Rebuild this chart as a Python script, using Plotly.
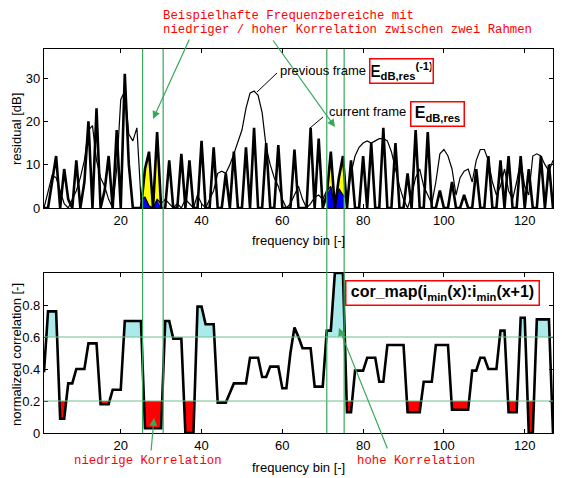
import numpy as np
import plotly.graph_objects as go

# frequency bins 1..127
bins = list(range(1, 128))

# residual of the current frame [dB] (thick line)
cur_frame = [0, 0, 6, 12, 0, 9, 2, 0, 11, 0,
             6, 20, 0, 23, 0, 4, 12, 0, 18, 0,
             31, 10, 0, 0, 0, 9, 13, 0, 17.5, 0,
             0, 11, 0, 0, 12.5, 0, 11, 0, 0, 15.5,
             0, 0, 14, 0, 0, 8, 0, 13, 0, 0,
             14, 0, 18.5, 0, 0, 15, 0, 0, 14.5, 0,
             0, 0, 13.5, 0, 0, 0, 18.5, 0, 16, 0,
             3, 13, 0, 7, 12, 0, 11, 0, 0, 12,
             0, 15, 0, 0, 18.5, 0, 0, 15, 0, 0,
             8, 0, 18, 0, 0, 17.5, 0, 0, 4, 0,
             0, 6, 0, 0, 3, 0, 0, 9, 0, 0,
             12, 0, 0, 11, 0, 12, 0, 0, 12, 0,
             9, 0, 0, 12, 0, 10, 0]

# residual of the previous frame [dB] (thin line)
prev_frame = [0, 4, 7.5, 7, 4, 1, 0, 2, 4, 7,
              11, 18, 19, 11, 7, 5, 2, 0, 9, 25,
              27, 17, 15.5, 18.5, 2, 2.5, 0.5, 0, 2, 1,
              2, 1, 0, 1, 0, 2, 1, 0, 3, 1,
              0, 2, 4, 8, 8.5, 8, 10, 12.5, 15, 18,
              23, 26.5, 27, 26, 22, 14, 10, 7, 5, 2,
              0, 1, 3, 5, 2, 0, 1, 2.5, 3, 2,
              4, 5, 0, 4.5, 3, 2, 8, 12, 14, 15,
              15.5, 15, 15.5, 16, 16, 15.5, 13, 9, 5, 2,
              0, 3, 7, 9, 5, 3, 1, 6, 12.5, 13.5,
              12, 9, 3, 7, 8.5, 9, 6, 11, 13.5, 13.5,
              11, 6, 3, 5, 9, 4, 2, 6, 11, 5,
              3, 12, 12.5, 12, 10, 8.5, 11]

# normalized correlation between the two frames
correlation = [0.38, 0.76, 0.76, 0.76, 0.09, 0.09, 0.31, 0.31, 0.40, 0.40,
               0.40, 0.56, 0.56, 0.56, 0.18, 0.18, 0.18, 0.27, 0.27, 0.27,
               0.70, 0.70, 0.70, 0.70, 0.70, 0.03, 0.03, 0.03, 0.03, 0.03,
               0.70, 0.70, 0.59, 0.59, 0.59, 0.0, 0.0, 0.0, 0.79, 0.79,
               0.68, 0.68, 0.68, 0.19, 0.19, 0.19, 0.25, 0.31, 0.31, 0.31,
               0.31, 0.47, 0.47, 0.47, 0.35, 0.35, 0.415, 0.415, 0.415, 0.28,
               0.28, 0.50, 0.66, 0.60, 0.53, 0.53, 0.53, 0.29, 0.29, 0.29,
               0.64, 0.64, 1.0, 1.0, 1.0, 0.13, 0.13, 0.39, 0.39, 0.39,
               0.47, 0.47, 0.47, 0.32, 0.32, 0.55, 0.55, 0.55, 0.55, 0.55,
               0.13, 0.13, 0.13, 0.13, 0.32, 0.32, 0.32, 0.55, 0.55, 0.55,
               0.55, 0.145, 0.145, 0.145, 0.145, 0.145, 0.39, 0.39, 0.47, 0.47,
               0.40, 0.40, 0.40, 0.64, 0.64, 0.13, 0.13, 0.13, 0.72, 0.72,
               0.0, 0.0, 0.71, 0.71, 0.71, 0.71, 0.0]

# example ranges (low / high correlation), bounds in bins
regions = [(25.4, 30.5), (71.0, 75.3)]
high_thr = 0.6
low_thr = 0.2

x_ticks = [20, 40, 60, 80, 100, 120]
y1_ticks = [0, 10, 20, 30]
y2_ticks = [0, 0.2, 0.4, 0.6, 0.8]
y2_ticktext = ['0', '0.2', '0.4', '0.6', '0.8']

# the page puts the figure 8px in from the corner, so the figure is
# made that much smaller and all positions below are page pixels
OFF = 8
W, H = 562 - OFF, 478 - OFF
L, R, T, B = 44 - OFF, 9, 49 - OFF, 45
font = 'Arial, Liberation Sans, sans-serif'
mono = 'Courier New, Liberation Mono, monospace'
green = '#37a85a'


def p(xpx, ypx):
    # page pixel -> paper coords
    xpx -= OFF
    ypx -= OFF
    return (xpx - L) / (W - L - R), (H - B - ypx) / (H - T - B)


def with_crossings(xs, ys, level):
    # add the points where the line crosses a threshold
    ox, oy = [xs[0]], [ys[0]]
    for i in range(1, len(xs)):
        x0, y0, x1, y1 = xs[i - 1], ys[i - 1], xs[i], ys[i]
        if (y0 - level) * (y1 - level) < 0:
            t = (level - y0) / (y1 - y0)
            ox.append(x0 + t * (x1 - x0))
            oy.append(level)
        ox.append(x1)
        oy.append(y1)
    return ox, oy


fig = go.Figure()

# yellow / blue areas in the marked ranges
for lo, hi in regions:
    xs = [lo] + [b for b in bins if lo < b < hi] + [hi]
    yc = np.interp(xs, bins, cur_frame)
    yp = np.minimum(np.interp(xs, bins, prev_frame), yc)
    fig.add_trace(go.Scatter(x=xs, y=yc, fill='tozeroy', fillcolor='#ffff00',
                             mode='lines', line=dict(width=0), xaxis='x', yaxis='y'))
    fig.add_trace(go.Scatter(x=xs, y=yp, fill='tozeroy', fillcolor='#0000ff',
                             mode='lines', line=dict(width=0), xaxis='x', yaxis='y'))

fig.add_trace(go.Scatter(x=bins, y=prev_frame, mode='lines',
                         line=dict(color='black', width=1.2), xaxis='x', yaxis='y'))
fig.add_trace(go.Scatter(x=bins, y=cur_frame, mode='lines',
                         line=dict(color='black', width=2.6), xaxis='x', yaxis='y'))

# cyan above 0.6, red below 0.2
cx, cy = with_crossings(bins, correlation, high_thr)
fig.add_trace(go.Scatter(x=cx, y=[high_thr] * len(cx), mode='lines',
                         line=dict(width=0), xaxis='x2', yaxis='y2'))
fig.add_trace(go.Scatter(x=cx, y=[max(v, high_thr) for v in cy], mode='lines',
                         fill='tonexty', fillcolor='#aaeaea',
                         line=dict(width=0), xaxis='x2', yaxis='y2'))
rx, ry = with_crossings(bins, correlation, low_thr)
fig.add_trace(go.Scatter(x=rx, y=[low_thr] * len(rx), mode='lines',
                         line=dict(width=0), xaxis='x2', yaxis='y2'))
fig.add_trace(go.Scatter(x=rx, y=[min(v, low_thr) for v in ry], mode='lines',
                         fill='tonexty', fillcolor='#ff0000',
                         line=dict(width=0), xaxis='x2', yaxis='y2'))

fig.add_trace(go.Scatter(x=bins, y=correlation, mode='lines',
                         line=dict(color='black', width=2.6), xaxis='x2', yaxis='y2'))

# green marker lines
shapes = []
for lo, hi in regions:
    for xv in (lo, hi):
        shapes.append(dict(type='line', xref='x', yref='paper', x0=xv, x1=xv,
                           y0=0, y1=1, line=dict(color=green, width=1.2)))
for lev in (low_thr, high_thr):
    shapes.append(dict(type='line', xref='paper', yref='y2', x0=0, x1=1,
                       y0=lev, y1=lev, line=dict(color='#72c08e', width=1.2)))

# leader lines for the frame labels
for (xa, ya), (xb, yb) in [((277, 73), (257, 92)), ((323, 117), (310, 128))]:
    x0, y0 = p(xa, ya)
    x1, y1 = p(xb, yb)
    shapes.append(dict(type='line', xref='paper', yref='paper', x0=x0, y0=y0,
                       x1=x1, y1=y1, line=dict(color='black', width=1)))

ann = []


def text(xpx, ypx, s, size=13, color='black', family=font, anchor='center', **kw):
    x, y = p(xpx, ypx)
    ann.append(dict(x=x, y=y, xref='paper', yref='paper', text=s, showarrow=False,
                    xanchor=anchor, yanchor='middle',
                    font=dict(size=size, color=color, family=family), **kw))


def arrow(tip, tail):
    x, y = p(*tip)
    ann.append(dict(x=x, y=y, xref='paper', yref='paper', text='', showarrow=True,
                    ax=tail[0] - tip[0], ay=tail[1] - tip[1],
                    arrowhead=2, arrowsize=1.3, arrowwidth=1.2, arrowcolor=green))


# top note sits a few px lower than in the scan so it stays inside the page
text(161, 16, 'Beispielhafte Frequenzbereiche mit', size=12.3, color='red',
     family=mono, anchor='left')
text(161, 30, 'niedriger / hoher Korrelation zwischen zwei Rahmen', size=12.3,
     color='red', family=mono, anchor='left')
text(148, 461, 'niedrige Korrelation', size=12.3, color='red', family=mono)
text(416, 461, 'hohe Korrelation', size=12.3, color='red', family=mono)

arrow((153, 119), (190, 38))
arrow((335, 127), (272, 39))
arrow((154, 418), (151, 452))
arrow((339, 328), (388, 450))

text(278, 71, 'previous frame', anchor='left')
text(401, 70.5, '<b>E<sub>dB,res</sub><sup>(-1)</sup></b>', size=16,
     bordercolor='red', borderwidth=1.5, borderpad=1, width=60, height=21)
text(327, 111, 'current frame', anchor='left')
text(437, 113.5, '<b>E<sub>dB,res</sub></b>', size=16,
     bordercolor='red', borderwidth=1.5, borderpad=1, width=50, height=21)
text(442, 292.5, '<b>cor_map(i<sub>min</sub>(x):i<sub>min</sub>(x+1)</b>', size=16,
     bordercolor='red', borderwidth=1.5, borderpad=1, width=190, height=21)

# axis titles
text(298, 240, 'frequency bin [-]')
text(298, 467, 'frequency bin [-]')
text(16, 129, 'residual [dB]', textangle=-90)
text(16, 355, 'normalized correlation [-]', textangle=-90)

axis_style = dict(showline=True, linecolor='black', linewidth=1.2, mirror='ticks',
                  ticks='inside', ticklen=4, tickcolor='black', showgrid=False,
                  zeroline=False, tickfont=dict(family=font, size=13, color='black'))

y1_lo = p(0, 208)[1]
y2_hi = p(0, 273)[1]

fig.update_layout(
    width=W, height=H,
    margin=dict(l=L, r=R, t=T, b=B),
    paper_bgcolor='white', plot_bgcolor='white',
    showlegend=False,
    xaxis=dict(domain=[0, 1], anchor='y', range=[1, 127], tickvals=x_ticks, **axis_style),
    yaxis=dict(domain=[y1_lo, 1], anchor='x', range=[0, 36.7], tickvals=y1_ticks,
               **axis_style),
    xaxis2=dict(domain=[0, 1], anchor='y2', range=[1, 127], tickvals=x_ticks,
                **axis_style),
    yaxis2=dict(domain=[0, y2_hi], anchor='x2', range=[0, 1.0], tickvals=y2_ticks,
                ticktext=y2_ticktext, **axis_style),
    shapes=shapes,
    annotations=ann,
)

fig.write_html("out.html")
